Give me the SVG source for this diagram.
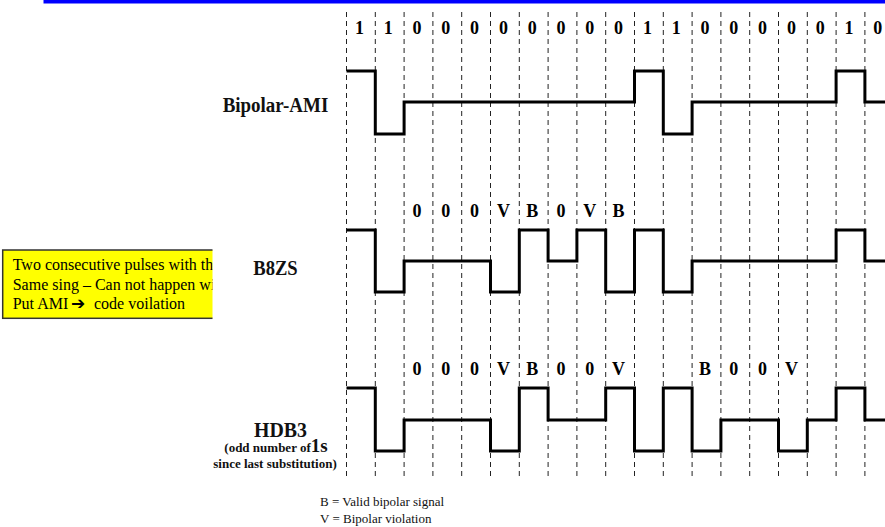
<svg xmlns="http://www.w3.org/2000/svg" width="885" height="527" viewBox="0 0 885 527">
<style>
.grid line{stroke:#222;stroke-width:1;stroke-dasharray:5 4}
.sig{fill:none;stroke:#000;stroke-width:3;stroke-linejoin:miter;stroke-linecap:butt}
.lbl{font-family:"Liberation Serif","Times New Roman",serif;font-weight:bold;font-size:18px;fill:#000;text-anchor:middle}
.side{font-family:"Liberation Serif","Times New Roman",serif;font-weight:bold;font-size:20px;fill:#111}
.small{font-family:"Liberation Serif","Times New Roman",serif;font-weight:bold;font-size:13px;fill:#111;text-anchor:middle}
.note{font-family:"Liberation Serif","Times New Roman","DejaVu Sans",serif;font-size:16px;fill:#000}
.arrow{font-family:"DejaVu Sans",sans-serif;font-weight:bold;font-size:17px}
.leg{font-family:"Liberation Serif","Times New Roman",serif;font-size:13px;fill:#111}
</style>
<defs>
<clipPath id="noteclip"><rect x="0" y="240" width="212.5" height="90"/></clipPath>
</defs>
<rect x="0" y="0" width="885" height="527" fill="#fff"/>
<rect id="topbar" x="43.5" y="0" width="841.5" height="3.5" fill="#0000ff"/>

<g id="grid" class="grid">
<line x1="346.5" y1="12" x2="346.5" y2="478"/>
<line x1="375.3" y1="12" x2="375.3" y2="478"/>
<line x1="404.1" y1="12" x2="404.1" y2="478"/>
<line x1="432.9" y1="12" x2="432.9" y2="478"/>
<line x1="461.7" y1="12" x2="461.7" y2="478"/>
<line x1="490.5" y1="12" x2="490.5" y2="478"/>
<line x1="519.3" y1="12" x2="519.3" y2="478"/>
<line x1="548.1" y1="12" x2="548.1" y2="478"/>
<line x1="576.9" y1="12" x2="576.9" y2="478"/>
<line x1="605.7" y1="12" x2="605.7" y2="478"/>
<line x1="634.5" y1="12" x2="634.5" y2="478"/>
<line x1="663.3" y1="12" x2="663.3" y2="478"/>
<line x1="692.1" y1="12" x2="692.1" y2="478"/>
<line x1="720.9" y1="12" x2="720.9" y2="478"/>
<line x1="749.7" y1="12" x2="749.7" y2="478"/>
<line x1="778.5" y1="12" x2="778.5" y2="478"/>
<line x1="807.3" y1="12" x2="807.3" y2="478"/>
<line x1="836.1" y1="12" x2="836.1" y2="478"/>
<line x1="864.9" y1="12" x2="864.9" y2="478"/>
</g>

<g id="bits" class="lbl">
<text x="359.4" y="34">1</text>
<text x="388.2" y="34">1</text>
<text x="417" y="34">0</text>
<text x="445.8" y="34">0</text>
<text x="474.6" y="34">0</text>
<text x="503.4" y="34">0</text>
<text x="532.2" y="34">0</text>
<text x="561" y="34">0</text>
<text x="589.8" y="34">0</text>
<text x="618.6" y="34">0</text>
<text x="647.4" y="34">1</text>
<text x="676.2" y="34">1</text>
<text x="705" y="34">0</text>
<text x="733.8" y="34">0</text>
<text x="762.6" y="34">0</text>
<text x="791.4" y="34">0</text>
<text x="820.2" y="34">0</text>
<text x="849" y="34">1</text>
<text x="877.8" y="34">0</text>
</g>

<g id="ami">
<text class="side" x="222.7" y="111.5" textLength="105.6" lengthAdjust="spacingAndGlyphs">Bipolar-AMI</text>
<path class="sig" d="M346.5,71 H375.3 V134 H404.1 V102 H634.5 V71 H663.3 V134 H692.1 V102 H836.1 V71 H864.9 V102 H885"/>
</g>

<g id="b8zs">
<text class="side" x="253.3" y="275" textLength="44.4" lengthAdjust="spacingAndGlyphs">B8ZS</text>
<g class="lbl">
<text x="417" y="217">0</text>
<text x="445.8" y="217">0</text>
<text x="474.6" y="217">0</text>
<text x="503.4" y="217">V</text>
<text x="532.2" y="217">B</text>
<text x="561" y="217">0</text>
<text x="589.8" y="217">V</text>
<text x="618.6" y="217">B</text>
</g>
<path class="sig" d="M346.5,230 H375.3 V292 H404.1 V261 H490.5 V292 H519.3 V230 H548.1 V261 H576.9 V230 H605.7 V292 H634.5 V230 H663.3 V292 H692.1 V261 H836.1 V230 H864.9 V261 H885"/>
</g>

<g id="hdb3">
<text class="side" x="254" y="437" textLength="53" lengthAdjust="spacingAndGlyphs">HDB3</text>
<text class="small" x="276" y="452">(odd number of<tspan font-size="19">1s</tspan></text>
<text class="small" x="275" y="468">since last substitution)</text>
<g class="lbl">
<text x="417" y="375">0</text>
<text x="445.8" y="375">0</text>
<text x="474.6" y="375">0</text>
<text x="503.4" y="375">V</text>
<text x="532.2" y="375">B</text>
<text x="561" y="375">0</text>
<text x="589.8" y="375">0</text>
<text x="618.6" y="375">V</text>
<text x="705" y="375">B</text>
<text x="733.8" y="375">0</text>
<text x="762.6" y="375">0</text>
<text x="791.4" y="375">V</text>
</g>
<path class="sig" d="M346.5,388 H375.3 V451 H404.1 V420 H490.5 V451 H519.3 V388 H548.1 V420 H605.7 V388 H634.5 V451 H663.3 V388 H692.1 V451 H720.9 V420 H778.5 V451 H807.3 V420 H836.1 V388 H864.9 V420 H885"/>
</g>

<g id="note" clip-path="url(#noteclip)">
<rect x="2.7" y="250" width="260" height="68.3" fill="#ffff00" stroke="#333" stroke-width="1.5"/>
<text class="note" x="12.7" y="270">Two consecutive pulses with th</text>
<text class="note" x="12.7" y="289.5">Same sing – Can not happen wi</text>
<text class="note" x="12.7" y="308.5">Put AMI <tspan class="arrow" x="71">➔</tspan><tspan x="94">code voilation</tspan></text>
</g>

<g id="legend" class="leg">
<text x="320" y="506">B = Valid bipolar signal</text>
<text x="320" y="523">V = Bipolar violation</text>
</g>
</svg>
